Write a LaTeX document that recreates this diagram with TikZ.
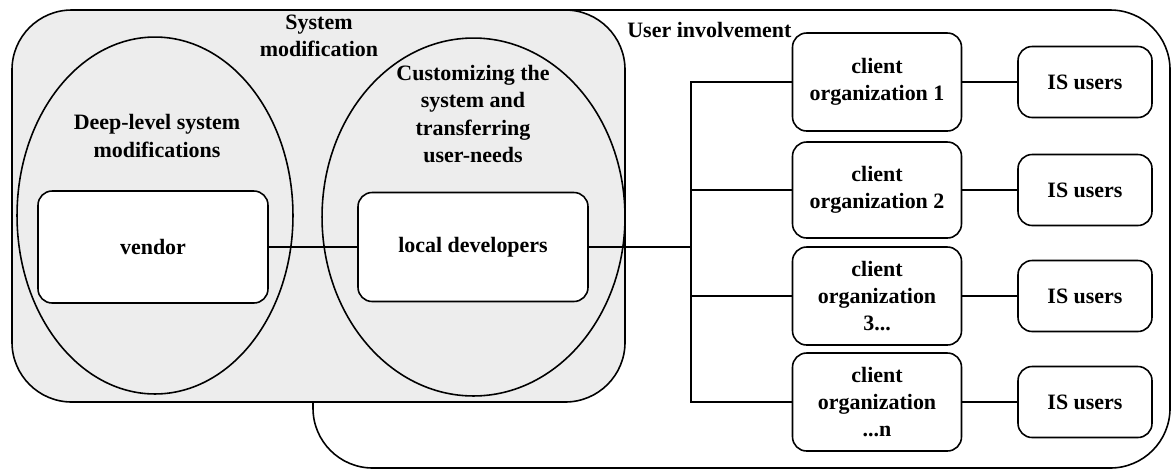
\documentclass[tikz,border=0pt]{standalone}
\usepackage{fontspec}
\setmainfont{Liberation Serif}
\usetikzlibrary{calc,shapes.geometric}

\tikzset{
  lbl/.style={font=\bfseries\fontsize{12.5}{15.4}\selectfont, align=center, inner sep=0pt},
  rbox/.style={lbl, draw, line width=0.9pt, fill=white, rounded corners=8pt},
  oval/.style={draw, ellipse, line width=0.9pt, inner sep=0pt, outer sep=0pt},
  area/.style={draw, line width=0.9pt, rounded corners=34pt},
  link/.style={line width=0.9pt},
}

\begin{document}
\begin{tikzpicture}[x=0.02cm, y=-0.02cm]
	%%%%% START %%%%%
	\useasboundingbox (0,0) rectangle (1175,471);

	\draw[area, fill=white] (313,10) rectangle (1170,468);
	\draw[area, fill=black!7] (12,10) rectangle (625,402);

	\node[lbl] (sysmod) at (319,36) {System\\modification};
	\node[lbl, anchor=west] (userinv) at (627,30) {User involvement};

	\node[oval, minimum width=5.52cm, minimum height=7.14cm] (deep) at (155,215.5) {};
	\node[oval, minimum width=6.06cm, minimum height=7.16cm] (cust) at (473.5,217) {};
	\node[lbl] (deeplbl) at (157,136) {Deep-level system\\modifications};
	\node[lbl] (custlbl) at (473,114) {Customizing the\\system and\\transferring\\user-needs};

	\node[rbox, minimum width=4.6cm, minimum height=2.24cm] (vendor) at (153,247) {vendor};
	\node[rbox, minimum width=4.6cm, minimum height=2.18cm] (locdev) at (473,247) {local developers};

	\node[rbox, minimum width=3.38cm, minimum height=1.96cm] (org1) at (877,82) {client\\organization 1};
	\node[rbox, minimum width=3.38cm, minimum height=1.92cm] (org2) at (877,190) {client\\organization 2};
	\node[rbox, minimum width=3.38cm, minimum height=1.96cm] (org3) at (877,296) {client\\organization\\3...};
	\node[rbox, minimum width=3.38cm, minimum height=1.96cm] (org4) at (877,402) {client\\organization\\...n};

	\foreach \i in {1,...,4}
		\node[rbox, minimum width=2.68cm, minimum height=1.42cm] (isu\i) at ($(org\i)+(208,0)$) {IS users};

	\coordinate (bus) at (691,247);
	\draw[link] (vendor) -- (locdev);
	\draw[link, line width=1.4pt] (locdev) -- (bus);
	\foreach \i in {1,...,4} {
		\draw[link] (bus) |- (org\i);
		\draw[link] (org\i) -- (isu\i);
	}
	%%%%% END %%%%%
\end{tikzpicture}
\end{document}
